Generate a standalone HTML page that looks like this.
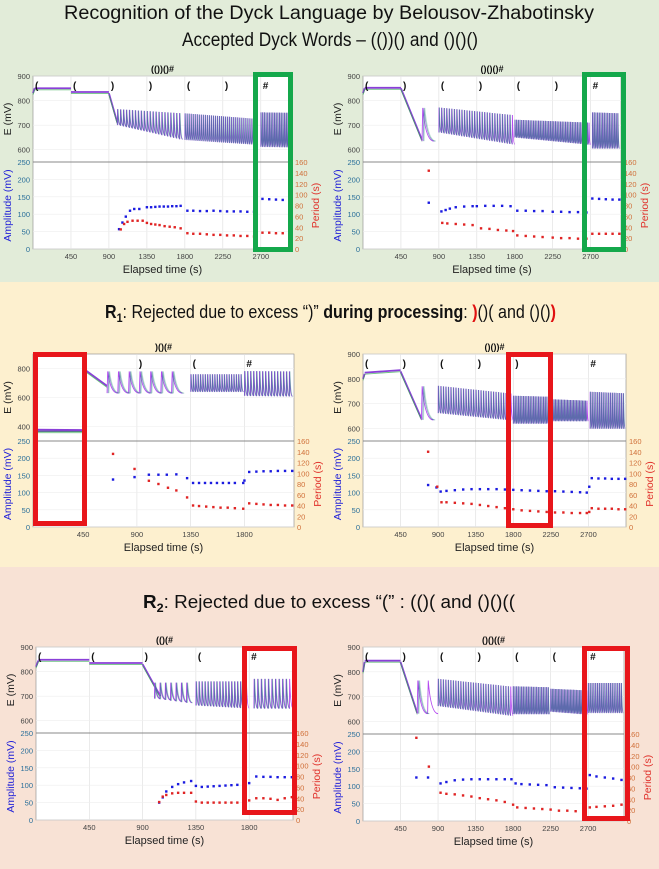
<!DOCTYPE html>
<html><head><meta charset="utf-8"><style>
html,body{margin:0;padding:0;width:659px;height:869px;overflow:hidden;font-family:"Liberation Sans",sans-serif;}
svg{display:block}
</style></head><body>
<svg id="fig" width="659" height="869" viewBox="0 0 659 869" xmlns="http://www.w3.org/2000/svg" font-family="Liberation Sans, sans-serif">
<rect x="0" y="0" width="659" height="282" fill="#e2ecd9"/>
<rect x="0" y="282" width="659" height="285" fill="#fdf0cf"/>
<rect x="0" y="567" width="659" height="302" fill="#f8e2d5"/>
<text x="329" y="19" text-anchor="middle" font-size="19" fill="#111" textLength="530" lengthAdjust="spacingAndGlyphs">Recognition of the Dyck Language by Belousov-Zhabotinsky</text>
<text x="330" y="46" text-anchor="middle" font-size="19" fill="#111" textLength="296" lengthAdjust="spacingAndGlyphs">Accepted Dyck Words – (())() and ()()()</text>
<text x="105" y="318" font-size="18" fill="#111" textLength="451" lengthAdjust="spacingAndGlyphs"><tspan font-weight="bold">R</tspan><tspan font-weight="bold" font-size="12" dy="4">1</tspan><tspan dy="-4">: Rejected due to excess “)” </tspan><tspan font-weight="bold">during processing</tspan>: <tspan fill="#e01010" font-weight="bold">)</tspan>()( and ()()<tspan fill="#e01010" font-weight="bold">)</tspan></text>
<text x="143" y="608" font-size="18" fill="#111" textLength="372" lengthAdjust="spacingAndGlyphs"><tspan font-weight="bold">R</tspan><tspan font-weight="bold" font-size="12" dy="4">2</tspan><tspan dy="-4">: Rejected due to excess “(” : (()( and ()()((</tspan></text>
</svg>
<script>
// ---------- data (times in s, potentials in mV, amplitude in mV, period in s) ----------
const A_ramps=[[0,20,830,850],[20,450,850,850],[450,900,835,835],[900,1000,830,710]];
const A_osc=[[1000,1800,700,640,765,748,35],[1800,2680,640,620,748,725,24],[2700,3060,612,610,752,750,20]];
const A_ampT=[1020,1060,1100,1150,1200,1260,1350,1400,1450,1500,1550,1600,1650,1700,1750,1830,1900,1980,2060,2140,2220,2300,2380,2460,2540,2620,2720,2800,2880,2960,3040];
const A_amp=[57,76,93,110,115,115,120,120,121,122,122,122,123,123,124,110,110,109,109,110,109,108,108,108,107,107,144,143,142,141,140];
const A_perT=[1040,1080,1120,1180,1240,1300,1350,1400,1450,1500,1560,1620,1680,1750,1830,1900,1980,2060,2140,2220,2300,2380,2460,2540,2620,2720,2800,2880,2960,3040];
const A_per=[36,46,50,52,52,52,48,46,45,44,42,41,40,38,29,28,28,27,26,26,25,25,24,24,23,30,30,29,29,29];

const B_ramps=[[0,20,830,850],[20,450,852,852],[450,700,850,640]];
const B_osc=[[700,900,635,635,770,770,140],[900,1800,670,620,772,740,30],[1800,2700,650,620,722,710,20],[2720,3050,605,605,752,748,20]];
const B_ampT=[780,930,980,1030,1100,1200,1300,1350,1450,1550,1650,1750,1830,1930,2030,2130,2250,2350,2450,2550,2650,2720,2800,2880,2960,3040];
const B_amp=[133,108,112,116,120,122,123,123,124,124,124,123,110,110,109,109,107,107,106,106,105,145,144,143,142,142];
const B_perT=[780,940,1000,1100,1200,1300,1400,1500,1600,1700,1780,1830,1930,2030,2130,2250,2350,2450,2550,2650,2720,2800,2880,2960,3040];
const B_per=[144,48,47,46,45,44,38,37,35,34,33,25,24,23,22,21,20,20,19,19,28,28,28,28,28];

const C_ramps=[[30,440,378,376],[30,440,368,368],[450,650,800,680]];
const C_osc=[[650,1350,630,630,780,780,90],[1350,1800,640,640,760,760,20],[1800,2215,612,608,782,780,25]];
const C_ampT=[700,880,1000,1080,1150,1230,1320,1370,1420,1470,1520,1570,1620,1670,1720,1790,1800,1840,1900,1960,2020,2080,2140,2200];
const C_amp=[138,145,152,152,152,153,142,128,128,128,128,128,128,128,128,128,135,160,161,162,162,163,163,163];
const C_perT=[700,880,1000,1080,1160,1230,1320,1370,1420,1480,1540,1600,1660,1720,1790,1840,1900,1960,2020,2080,2140,2200];
const C_per=[136,108,86,80,73,68,55,40,39,38,37,36,36,35,34,44,43,42,41,41,40,40];

const D_ramps=[[0,20,800,820],[20,450,825,835],[450,700,830,640]];
const D_osc=[[700,900,635,635,770,770,140],[900,1800,662,632,772,740,30],[1800,2250,620,620,732,728,20],[2250,2700,630,630,718,712,18],[2720,3150,600,600,748,742,22]];
const D_ampT=[780,880,930,1000,1100,1200,1300,1400,1500,1600,1700,1800,1900,2000,2100,2200,2300,2400,2500,2600,2680,2710,2740,2820,2900,2980,3060,3140];
const D_amp=[122,115,103,105,107,109,110,110,110,110,109,108,107,106,105,104,104,103,102,101,100,117,142,141,141,140,140,140];
const D_perT=[780,890,940,1000,1100,1200,1300,1400,1500,1600,1700,1800,1900,2000,2100,2200,2300,2400,2500,2600,2680,2710,2740,2820,2900,2980,3060,3140];
const D_per=[140,75,46,46,45,44,43,41,39,37,35,33,31,30,29,28,27,27,26,26,26,28,35,34,34,34,33,33];

const E_ramps=[[0,20,820,845],[20,450,848,848],[450,900,835,835],[900,1050,830,700]];
const E_osc=[[1000,1350,690,670,755,755,45],[1350,1800,662,650,760,760,25],[1840,2170,650,650,770,770,30]];
const E_ampT=[1040,1070,1100,1150,1200,1250,1310,1350,1400,1450,1500,1550,1600,1650,1700,1750,1800,1860,1920,1980,2040,2100,2160];
const E_amp=[50,65,82,95,103,108,112,98,95,96,97,98,99,100,101,102,106,125,124,124,123,123,123];
const E_perT=[1040,1070,1100,1150,1200,1250,1310,1350,1400,1450,1500,1550,1600,1650,1700,1750,1800,1860,1920,1980,2040,2100,2160];
const E_per=[33,43,46,49,50,50,50,34,32,32,32,32,32,32,32,32,36,40,40,39,37,40,42];

const F_ramps=[[0,20,800,840],[20,450,845,845],[450,650,840,635]];
const F_osc=[[650,900,632,632,765,765,125],[900,1800,662,622,772,740,30],[1800,2250,630,630,742,738,20],[2250,2700,640,628,732,725,18],[2700,3130,635,635,755,755,22]];
const F_ampT=[640,780,930,1000,1100,1200,1300,1400,1500,1600,1700,1780,1830,1900,2000,2100,2200,2300,2400,2500,2600,2680,2720,2800,2900,3000,3100];
const F_amp=[125,125,108,112,117,119,120,120,120,120,120,120,108,106,105,104,103,97,96,95,94,93,132,128,125,122,118];
const F_perT=[640,790,930,1000,1100,1200,1300,1400,1500,1600,1700,1800,1850,1950,2050,2150,2250,2350,2450,2550,2650,2720,2800,2900,3000,3100];
const F_per=[153,100,52,50,49,47,45,42,40,38,35,30,25,24,23,22,21,19,19,18,17,25,26,27,28,30];

// ---------- layout ----------
const NS="http://www.w3.org/2000/svg";
const svg=document.getElementById('fig');
function mk(tag,attrs,parent){const e=document.createElementNS(NS,tag);for(const k in attrs)e.setAttribute(k,attrs[k]);(parent||svg).appendChild(e);return e;}

const panels=[
 {id:'a',x0:33,x1:292,yT:76,yM:162,yB:249,tMin:0,tMax:3070,eMin:550,eMax:900,eTicks:[600,700,800,900],xTicks:[450,900,1350,1800,2250,2700],title:'(())()#',
  sym:[[0,'('],[450,'('],[900,')'],[1350,')'],[1800,'('],[2250,')'],[2700,'#']],box:[253,72,293,252,'#14a84b'],ramps:A_ramps,osc:A_osc,ampT:A_ampT,amp:A_amp,perT:A_perT,per:A_per},
 {id:'b',x0:363,x1:621,yT:76,yM:162,yB:249,tMin:0,tMax:3060,eMin:550,eMax:900,eTicks:[600,700,800,900],xTicks:[450,900,1350,1800,2250,2700],title:'()()()#',
  sym:[[0,'('],[450,')'],[900,'('],[1350,')'],[1800,'('],[2250,')'],[2700,'#']],box:[582,72,626,252,'#14a84b'],ramps:B_ramps,osc:B_osc,ampT:B_ampT,amp:B_amp,perT:B_perT,per:B_per},
 {id:'c',x0:33,x1:294,yT:354,yM:441,yB:527,tMin:30,tMax:2215,eMin:300,eMax:900,eTicks:[400,600,800],xTicks:[450,900,1350,1800],title:')()(#',
  sym:[[900,')'],[1350,'('],[1800,'#']],box:[33,352,87,526,'#e8161b'],ramps:C_ramps,osc:C_osc,ampT:C_ampT,amp:C_amp,perT:C_perT,per:C_per},
 {id:'d',x0:363,x1:626,yT:354,yM:441,yB:527,tMin:0,tMax:3150,eMin:550,eMax:900,eTicks:[600,700,800,900],xTicks:[450,900,1350,1800,2250,2700],title:'()())#',
  sym:[[0,'('],[450,')'],[900,'('],[1350,')'],[1800,')'],[2700,'#']],box:[506,352,553,528,'#e8161b'],ramps:D_ramps,osc:D_osc,ampT:D_ampT,amp:D_amp,perT:D_perT,per:D_per},
 {id:'e',x0:36,x1:293,yT:647,yM:733,yB:820,tMin:0,tMax:2170,eMin:550,eMax:900,eTicks:[600,700,800,900],xTicks:[450,900,1350,1800],title:'(()(#',
  sym:[[0,'('],[450,'('],[900,')'],[1350,'('],[1800,'#']],box:[242,646,297,815,'#e8161b'],ramps:E_ramps,osc:E_osc,ampT:E_ampT,amp:E_amp,perT:E_perT,per:E_per},
 {id:'f',x0:363,x1:624,yT:647,yM:734,yB:821,tMin:0,tMax:3130,eMin:550,eMax:900,eTicks:[600,700,800,900],xTicks:[450,900,1350,1800,2250,2700],title:'()()((#',
  sym:[[0,'('],[450,')'],[900,'('],[1350,')'],[1800,'('],[2250,'('],[2700,'#']],box:[582,646,630,821,'#e8161b'],ramps:F_ramps,osc:F_osc,ampT:F_ampT,amp:F_amp,perT:F_perT,per:F_per}
];

panels.forEach(p=>{
  const g=mk('g',{});
  
  
  const X=t=>p.x0+(t-p.tMin)/(p.tMax-p.tMin)*(p.x1-p.x0);
  const YE=v=>p.yM-(v-p.eMin)/(p.eMax-p.eMin)*(p.yM-p.yT);
  const YA=v=>p.yB-v/250*(p.yB-p.yM);
  const YP=v=>p.yB-v/160*(p.yB-p.yM);
  const bg=mk('rect',{x:p.x0,y:p.yT,width:p.x1-p.x0,height:p.yB-p.yT,fill:'#fff',stroke:'#888','stroke-width':0.6},g);
  
  
  p.xTicks.forEach(t=>{
    const l=mk('line',{x1:X(t),x2:X(t),y1:p.yT,y2:p.yB,stroke:'#ddd','stroke-width':0.6},g);
    
    
    const tx=mk('text',{x:X(t),y:p.yB+10,'font-size':7.5,'text-anchor':'middle',fill:'#444'},g);
    
    
    tx.textContent=t;
  });
  p.eTicks.forEach(v=>{
    mk('line',{x1:p.x0,x2:p.x1,y1:YE(v),y2:YE(v),stroke:'#eee','stroke-width':0.6},g);
    const tx=mk('text',{x:p.x0-3,y:YE(v)+3,'font-size':7.5,'text-anchor':'end',fill:'#444'},g);
    
    
    tx.textContent=v;
  });
  [0,50,100,150,200,250].forEach(v=>{
    mk('line',{x1:p.x0,x2:p.x1,y1:YA(v),y2:YA(v),stroke:'#eee','stroke-width':0.6},g);
    const tx=mk('text',{x:p.x0-3,y:YA(v)+3,'font-size':7.5,'text-anchor':'end',fill:'#2a6f9a'},g);
    
    
    tx.textContent=v;
  });
  [0,20,40,60,80,100,120,140,160].forEach(v=>{
    const tx=mk('text',{x:p.x1+3,y:YP(v)+3,'font-size':7.5,fill:'#d0703a'},g);
    
    
    tx.textContent=v;
  });
  mk('line',{x1:p.x0,x2:p.x1,y1:p.yM,y2:p.yM,stroke:'#666','stroke-width':0.8},g);
  let d='';
  p.ramps.forEach(r=>{d+='M'+X(r[0])+' '+YE(r[2])+'L'+X(r[1])+' '+YE(r[3]);});
  const rp=mk('path',{d:d,stroke:'#8a3fd8','stroke-width':1.8,fill:'none'},g);
  
  
  const rp2=mk('path',{d:d,stroke:'#2fa84a','stroke-width':0.9,fill:'none',transform:'translate(0,1.5)',opacity:0.7},g);
  
  
  [['#b44af0',0,1],['#3b4ab0',0.35,0.55],['#3aa870',0.6,0.35]].forEach(cfg=>{
    let dd='';
    p.osc.forEach(s=>{
      const [t0,t1,l0,l1,h0,h1,per]=s;const n=Math.max(1,Math.floor((t1-t0)/per));
      for(let i=0;i<n;i++){const f=i/n;const lo=l0+(l1-l0)*f,hi=h0+(h1-h0)*f;const t=t0+i*per+per*cfg[1]*0.3;
        if(t+per>t1+1)break;
        const mid=lo+(hi-lo)*0.25;
        dd+='M'+X(t).toFixed(2)+' '+YE(lo).toFixed(2)+'L'+X(t+per*0.06).toFixed(2)+' '+YE(hi).toFixed(2)+'C'+X(t+per*0.25).toFixed(2)+' '+YE(mid).toFixed(2)+' '+X(t+per*0.6).toFixed(2)+' '+YE(lo).toFixed(2)+' '+X(t+per).toFixed(2)+' '+YE(lo).toFixed(2);}
    });
    const op=mk('path',{d:dd,stroke:cfg[0],'stroke-width':0.9,fill:'none',opacity:cfg[2]},g);
    
    
  });
  p.sym.forEach(s=>{
    const tx=mk('text',{x:X(s[0])+2,y:p.yT+13,'font-size':10,'font-weight':'bold',fill:'#111'},g);
    
    
    tx.textContent=s[1];
  });
  p.ampT.forEach((t,i)=>{
    const r=mk('rect',{x:X(t)-1.2,y:YA(p.amp[i])-1.2,width:2.4,height:2.4,fill:'#1b1be0'},g);
    
    
  });
  p.perT.forEach((t,i)=>{
    const r=mk('rect',{x:X(t)-1.2,y:YP(p.per[i])-1.2,width:2.4,height:2.4,fill:'#e02424'},g);
    
    
  });
  const tt=mk('text',{x:(p.x0+p.x1)/2,y:p.yT-4,'font-size':9,'font-weight':'bold','text-anchor':'middle',fill:'#111'},g);
  
  
  tt.textContent=p.title;
  const xl=mk('text',{x:(p.x0+p.x1)/2,y:p.yB+24,'font-size':11,'text-anchor':'middle',fill:'#222'},g);
  
  
  xl.textContent='Elapsed time (s)';
  const lx=p.x0-22, ym=(p.yT+p.yM)/2, yl=(p.yM+p.yB)/2;
  const el=mk('text',{x:lx,y:ym,'font-size':10.5,'text-anchor':'middle',fill:'#222',transform:'rotate(-90 '+lx+' '+ym+')'},g);
  
  
  el.textContent='E (mV)';
  const al=mk('text',{x:lx,y:yl,'font-size':10.5,'text-anchor':'middle',fill:'#2323d8',transform:'rotate(-90 '+lx+' '+yl+')'},g);
  
  
  al.textContent='Amplitude (mV)';
  const rx=p.x1+27;
  const pl=mk('text',{x:rx,y:yl,'font-size':10.5,'text-anchor':'middle',fill:'#e0302a',transform:'rotate(-90 '+rx+' '+yl+')'},g);
  
  
  pl.textContent='Period (s)';
  const b=p.box;
  const bx=mk('rect',{x:b[0]+2.5,y:b[1]+2.5,width:b[2]-b[0]-5,height:b[3]-b[1]-5,fill:'none',stroke:b[4],'stroke-width':5},g);
  
  
});
</script>
</body></html>
